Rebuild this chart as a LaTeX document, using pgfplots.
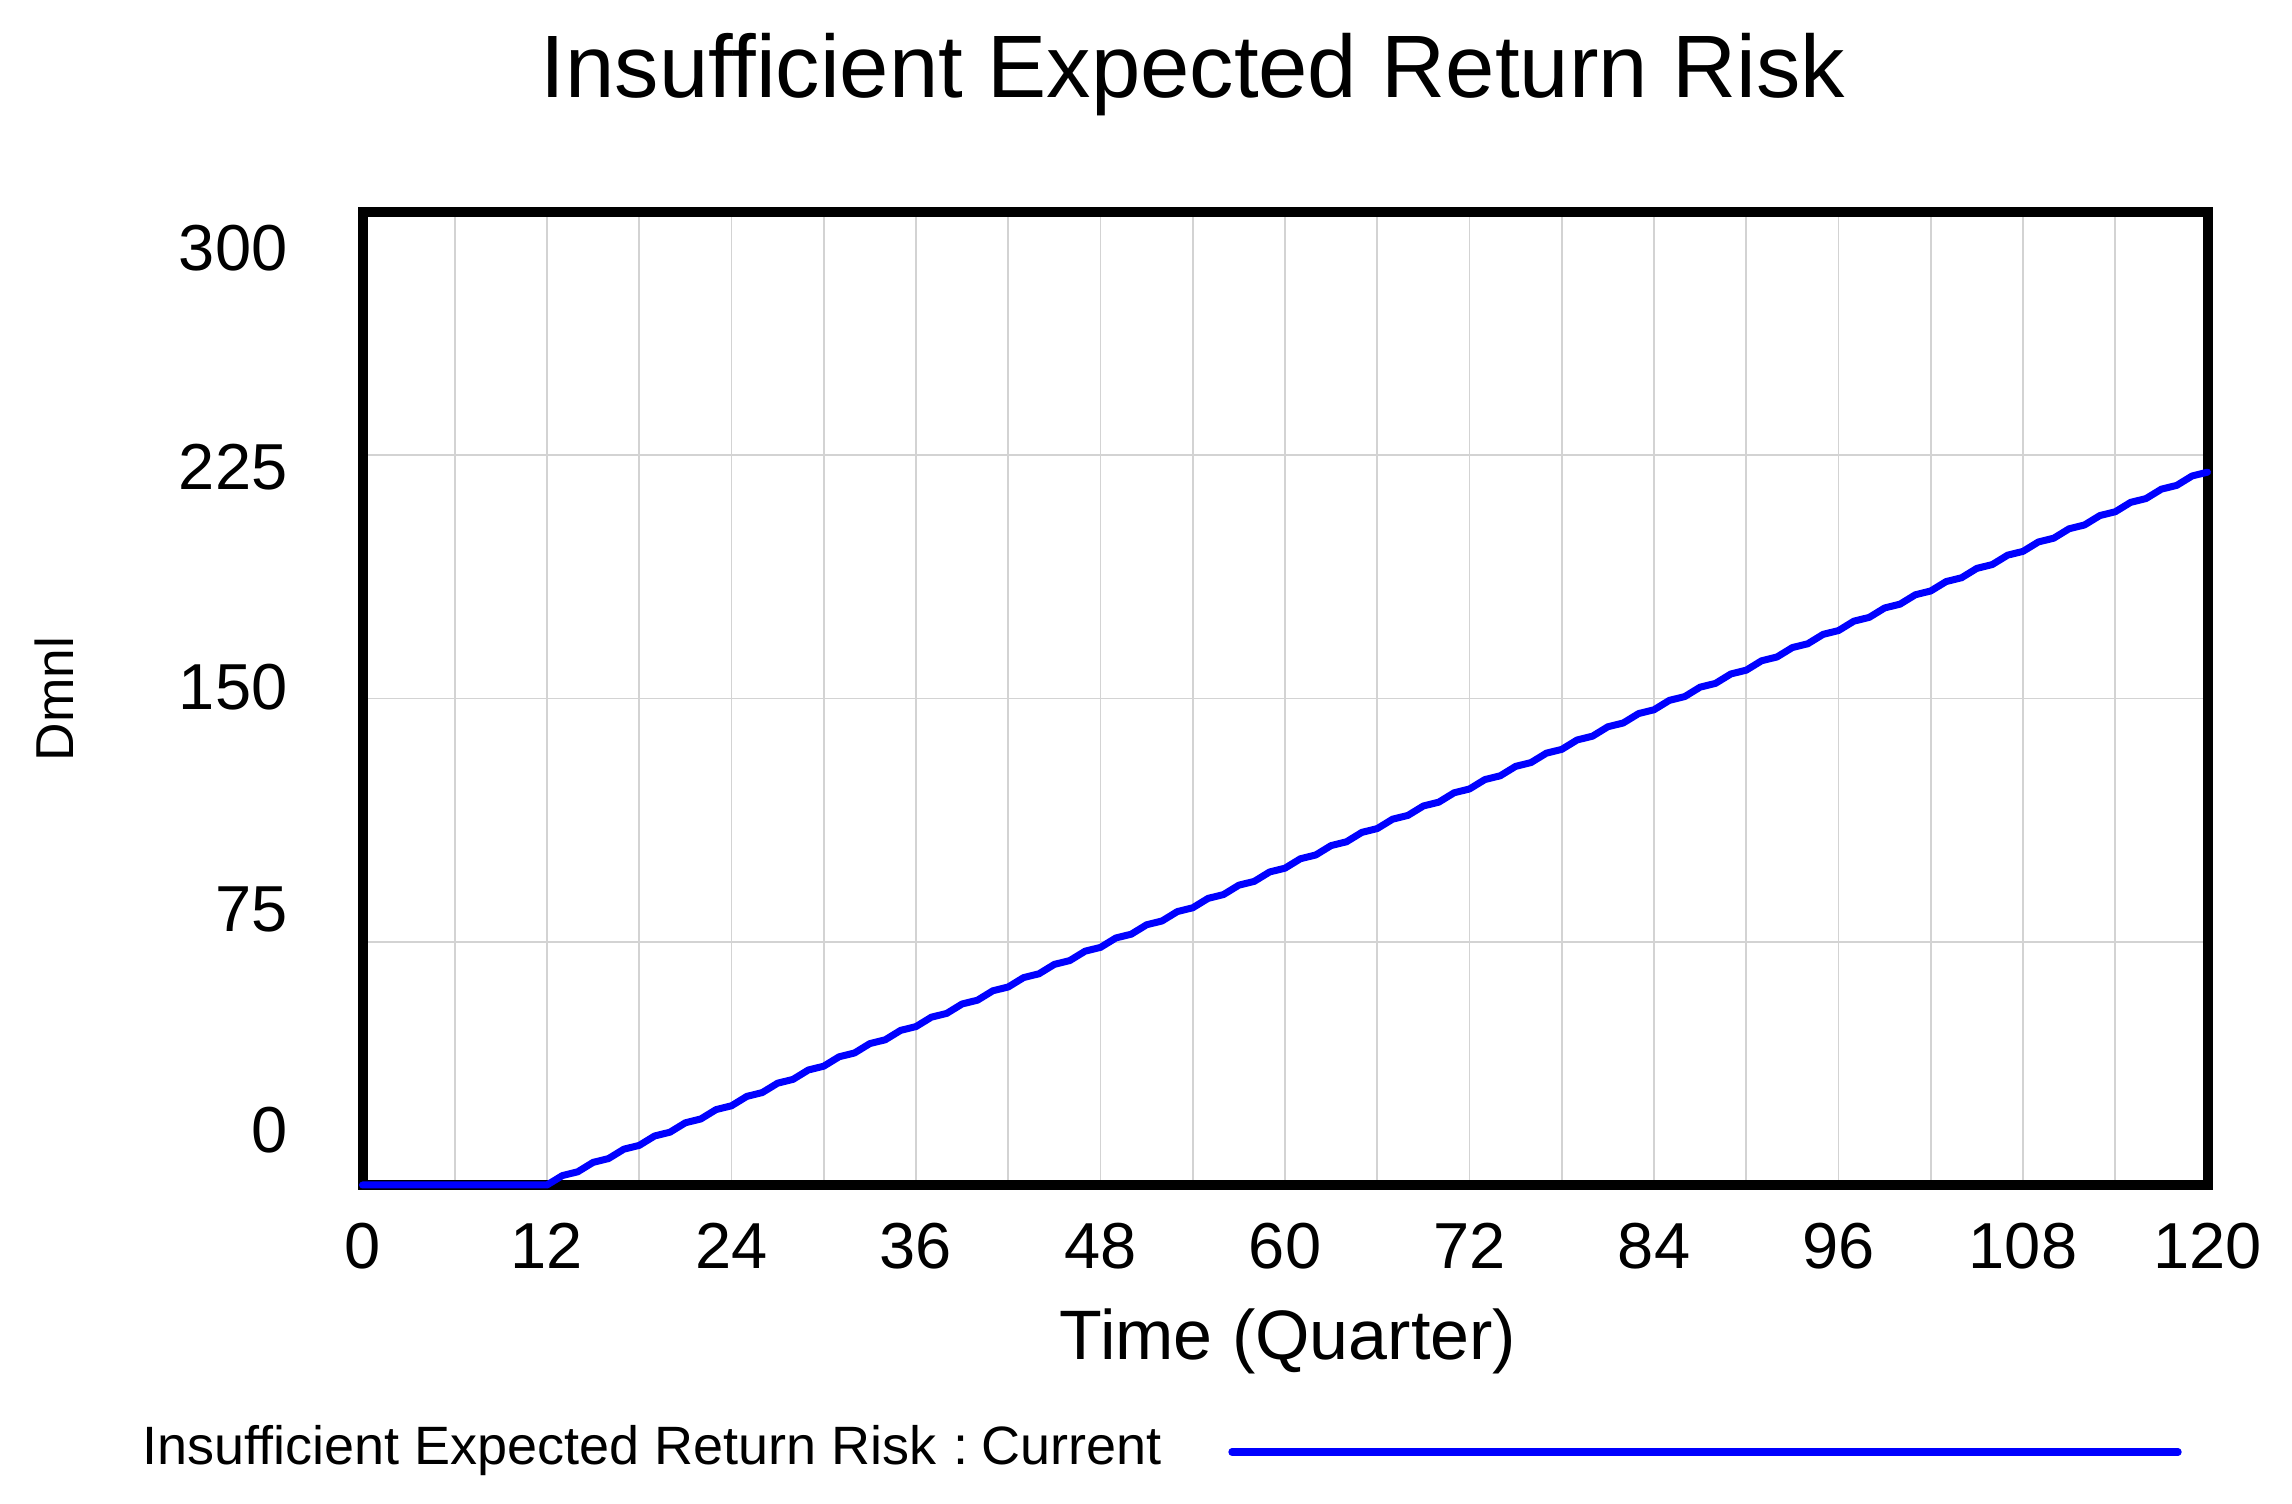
\documentclass[border=0pt]{standalone}
\usepackage{fontspec}
\setmainfont{Liberation Sans}
\usepackage{pgfplots}
\pgfplotsset{compat=1.18}
\definecolor{gridgray}{RGB}{211,211,211}
\definecolor{vblue}{RGB}{0,0,255}
\begin{document}
\begin{tikzpicture}[x=1pt,y=1pt]
\useasboundingbox (0,0) rectangle (687.6,451.2);
\begin{axis}[
  at={(108.75pt,95.7pt)}, anchor=south west,
  width=553.5pt, height=291.9pt, scale only axis,
  xmin=0, xmax=120, ymin=0, ymax=300,
  xtick={0,12,...,120}, minor xtick={6,18,...,114},
  ytick={0,75,150,225,300}, yticklabels={},
  extra y ticks={17.0,85.1,153.6,221.2,288.8},
  extra y tick labels={0,75,150,225,300},
  extra y tick style={grid=none, yticklabel style={anchor=east, inner sep=0pt, xshift=-22.35pt, font=\fontsize{19.5}{19.5}\selectfont}},
  grid=both,
  major grid style={draw=gridgray, line width=0.5pt},
  minor grid style={draw=gridgray, line width=0.5pt},
  major tick length=0pt, minor tick length=0pt,
  axis line style={line width=3pt},
  /pgf/number format/assume math mode=true,
  xticklabel style={font=\fontsize{19.5}{19.5}\selectfont, anchor=base, inner sep=0pt, yshift=-25.2pt},
  clip=false,
]
\addplot[vblue, line width=2.1pt, line join=round, line cap=round] coordinates {
(0,0) (12,0) (13,2.9) (14,4.07) (15,6.97) (16,8.14) (17,11.04) (18,12.21) (19,15.11) (20,16.28)
(21,19.18) (22,20.35) (23,23.25) (24,24.42) (25,27.32) (26,28.49) (27,31.39) (28,32.56) (29,35.46) (30,36.63)
(31,39.53) (32,40.7) (33,43.6) (34,44.77) (35,47.67) (36,48.84) (37,51.74) (38,52.91) (39,55.81) (40,56.98)
(41,59.88) (42,61.05) (43,63.95) (44,65.12) (45,68.02) (46,69.19) (47,72.09) (48,73.26) (49,76.16) (50,77.33)
(51,80.23) (52,81.4) (53,84.3) (54,85.47) (55,88.37) (56,89.54) (57,92.44) (58,93.61) (59,96.51) (60,97.68)
(61,100.58) (62,101.75) (63,104.65) (64,105.82) (65,108.72) (66,109.89) (67,112.79) (68,113.96) (69,116.86) (70,118.03)
(71,120.93) (72,122.1) (73,125.0) (74,126.17) (75,129.07) (76,130.24) (77,133.14) (78,134.31) (79,137.21) (80,138.38)
(81,141.28) (82,142.45) (83,145.35) (84,146.52) (85,149.42) (86,150.59) (87,153.49) (88,154.66) (89,157.56) (90,158.73)
(91,161.63) (92,162.8) (93,165.7) (94,166.87) (95,169.77) (96,170.94) (97,173.84) (98,175.01) (99,177.91) (100,179.08)
(101,181.98) (102,183.15) (103,186.05) (104,187.22) (105,190.12) (106,191.29) (107,194.19) (108,195.36) (109,198.26) (110,199.43)
(111,202.33) (112,203.5) (113,206.4) (114,207.57) (115,210.47) (116,211.64) (117,214.54) (118,215.71) (119,218.61) (120,219.78)
};
\end{axis}
\node[font=\fontsize{26.6}{26.6}\selectfont] at (357.9,428.8) {Insufficient Expected Return Risk};
\node[font=\fontsize{21}{21}\selectfont] at (386.4,48.8) {Time (Quarter)};
\node[font=\fontsize{16}{16}\selectfont, rotate=90] at (16.2,241.5) {Dmnl};
\node[font=\fontsize{16.2}{16.2}\selectfont, anchor=west, inner sep=0pt] at (42.6,15.9) {Insufficient Expected Return Risk\hspace{0.3em}:\hspace{0.25em}Current};
\draw[vblue, line width=2.2pt, line cap=round] (369.6,15.6) -- (653.4,15.6);
\end{tikzpicture}
\end{document}
